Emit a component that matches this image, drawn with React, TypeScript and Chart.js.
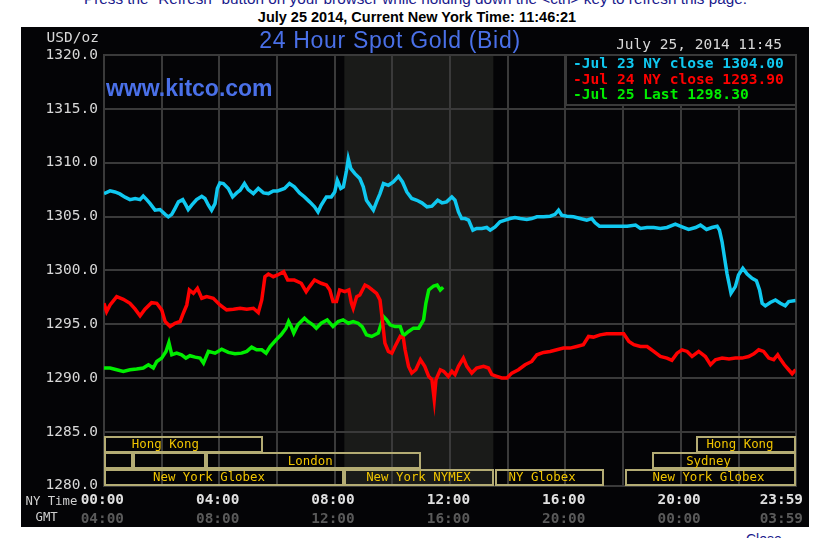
import React, { useEffect, useRef } from "react";
import { Chart, registerables } from "chart.js";

Chart.register(...registerables);

// ---------- data ----------
// [hour of NY time, USD/oz]
const jul23Close: number[][] = [
  [0, 1307.13], [0.21, 1307.38], [0.38, 1307.28], [0.55, 1307.1], [0.73, 1306.8], [0.9, 1306.57], [1.08, 1306.67],
  [1.25, 1306.57], [1.36, 1306.9], [1.48, 1306.57], [1.6, 1306.2], [1.77, 1305.59], [1.94, 1305.65], [2.12, 1305.2],
  [2.23, 1304.97], [2.35, 1305.2], [2.46, 1305.74], [2.58, 1306.36], [2.73, 1306.57], [2.84, 1306.05], [2.92, 1305.65],
  [3.04, 1306.05], [3.21, 1306.57], [3.39, 1306.88], [3.5, 1306.67], [3.62, 1306.05], [3.73, 1305.59], [3.85, 1306.2],
  [3.93, 1307.6], [4.02, 1308.12], [4.14, 1308.06], [4.31, 1307.6], [4.46, 1306.82], [4.6, 1307.19], [4.72, 1307.44],
  [4.87, 1308.06], [5.0, 1307.5], [5.18, 1307.13], [5.35, 1307.6], [5.53, 1307.19], [5.7, 1307.13], [5.87, 1307.38],
  [6.02, 1307.38], [6.26, 1307.6], [6.43, 1308.06], [6.6, 1307.75], [6.78, 1307.19], [6.95, 1306.82], [7.13, 1306.36],
  [7.3, 1305.9], [7.42, 1305.43], [7.53, 1306.05], [7.71, 1306.82], [7.88, 1306.82], [8.0, 1307.28], [8.09, 1308.36],
  [8.21, 1307.6], [8.3, 1307.75], [8.41, 1309.29], [8.47, 1310.37], [8.56, 1309.44], [8.7, 1308.98], [8.87, 1308.52],
  [8.99, 1307.75], [9.1, 1306.51], [9.22, 1306.05], [9.34, 1305.59], [9.45, 1306.36], [9.57, 1307.13], [9.69, 1308.06],
  [9.86, 1307.9], [10.03, 1308.21], [10.21, 1308.73], [10.35, 1308.21], [10.5, 1307.28], [10.67, 1306.67], [10.85, 1306.51],
  [11.02, 1306.27], [11.2, 1305.9], [11.37, 1305.96], [11.57, 1306.51], [11.72, 1306.27], [11.88, 1306.36], [12.06, 1306.82],
  [12.17, 1306.51], [12.29, 1305.43], [12.4, 1304.81], [12.52, 1304.81], [12.64, 1304.66], [12.79, 1303.73], [12.92, 1303.89],
  [13.1, 1303.89], [13.27, 1303.98], [13.39, 1303.73], [13.56, 1304.04], [13.73, 1304.51], [13.91, 1304.66], [14.08, 1304.81],
  [14.25, 1304.91], [14.43, 1304.81], [14.66, 1304.72], [14.83, 1304.81], [15.01, 1304.97], [15.24, 1304.97], [15.47, 1305.03],
  [15.64, 1305.2], [15.76, 1305.59], [15.87, 1305.12], [16.05, 1305.03], [16.28, 1304.97], [16.51, 1304.81], [16.74, 1304.66],
  [16.91, 1304.81], [17.03, 1304.41], [17.18, 1304.1], [17.38, 1304.1], [18.14, 1304.1], [18.43, 1304.2], [18.6, 1303.89],
  [18.83, 1303.98], [19.06, 1303.98], [19.29, 1303.89], [19.52, 1303.98], [19.81, 1304.29], [20.04, 1304.04], [20.27, 1303.8],
  [20.51, 1303.98], [20.68, 1304.2], [20.89, 1303.8], [21.08, 1303.98], [21.26, 1304.1], [21.34, 1303.73], [21.43, 1302.65],
  [21.51, 1301.27], [21.6, 1299.72], [21.67, 1298.8], [21.74, 1297.87], [21.89, 1298.49], [22.0, 1299.57], [22.15, 1300.19],
  [22.3, 1299.66], [22.47, 1299.26], [22.62, 1299.04], [22.73, 1298.18], [22.82, 1296.94], [22.93, 1296.7], [23.1, 1297.01],
  [23.28, 1297.25], [23.45, 1296.94], [23.62, 1296.7], [23.74, 1297.1], [23.98, 1297.19],
];

const jul24Close: number[][] = [
  [0, 1296.94], [0.09, 1296.17], [0.21, 1296.79], [0.44, 1297.56], [0.67, 1297.31], [0.9, 1296.94], [1.08, 1296.39],
  [1.25, 1295.77], [1.42, 1296.39], [1.65, 1297.0], [1.83, 1296.94], [2.0, 1296.33], [2.12, 1295.25], [2.29, 1294.78],
  [2.46, 1295.09], [2.64, 1295.25], [2.75, 1296.02], [2.87, 1296.79], [2.96, 1298.18], [3.1, 1297.87], [3.24, 1298.33],
  [3.39, 1297.41], [3.56, 1297.56], [3.79, 1297.41], [4.02, 1296.79], [4.25, 1296.33], [4.49, 1296.39], [4.72, 1296.48],
  [4.95, 1296.39], [5.18, 1296.48], [5.35, 1296.08], [5.47, 1297.25], [5.58, 1299.41], [5.7, 1299.66], [5.87, 1299.41],
  [6.02, 1299.57], [6.23, 1299.88], [6.37, 1299.1], [6.6, 1299.1], [6.84, 1298.8], [7.01, 1298.02], [7.13, 1298.49],
  [7.3, 1299.1], [7.53, 1298.8], [7.71, 1298.64], [7.83, 1298.18], [7.94, 1297.1], [8.06, 1297.1], [8.17, 1298.18],
  [8.35, 1298.02], [8.49, 1298.18], [8.58, 1296.94], [8.64, 1296.48], [8.76, 1297.56], [8.87, 1297.71], [9.05, 1298.64],
  [9.16, 1298.49], [9.3, 1298.18], [9.45, 1297.87], [9.57, 1297.25], [9.65, 1295.4], [9.74, 1293.24], [9.86, 1292.47],
  [9.98, 1292.31], [10.09, 1292.93], [10.27, 1293.86], [10.38, 1293.7], [10.44, 1292.62], [10.56, 1291.08], [10.67, 1290.46],
  [10.81, 1290.77], [10.97, 1291.7], [11.12, 1291.08], [11.26, 1290.15], [11.37, 1289.85], [11.45, 1288.0], [11.51, 1289.85],
  [11.66, 1290.77], [11.78, 1290.62], [11.94, 1290.15], [12.06, 1290.62], [12.17, 1290.31], [12.29, 1291.08], [12.46, 1291.85],
  [12.58, 1291.08], [12.75, 1290.46], [12.92, 1290.93], [13.16, 1291.08], [13.33, 1290.93], [13.45, 1290.31], [13.62, 1290.15],
  [13.79, 1290.0], [13.97, 1290.0], [14.14, 1290.46], [14.37, 1290.77], [14.6, 1291.23], [14.83, 1291.54], [15.01, 1292.16],
  [15.24, 1292.38], [15.47, 1292.47], [15.7, 1292.62], [15.93, 1292.78], [16.16, 1292.78], [16.39, 1292.93], [16.62, 1293.09],
  [16.8, 1293.86], [16.97, 1293.8], [17.2, 1294.01], [17.43, 1294.11], [18.02, 1294.11], [18.2, 1293.4], [18.37, 1293.09],
  [18.6, 1292.93], [18.83, 1292.93], [19.06, 1292.47], [19.29, 1292.0], [19.52, 1291.85], [19.69, 1291.64], [19.87, 1292.31],
  [20.04, 1292.62], [20.22, 1292.47], [20.39, 1292.0], [20.62, 1292.47], [20.85, 1292.0], [21.03, 1291.23], [21.2, 1291.7],
  [21.43, 1291.85], [21.67, 1291.76], [21.89, 1291.85], [22.12, 1291.85], [22.35, 1292.0], [22.53, 1292.25], [22.7, 1292.62],
  [22.87, 1292.47], [23.05, 1291.85], [23.22, 1291.7], [23.36, 1292.16], [23.45, 1291.76], [23.59, 1291.23], [23.74, 1290.77],
  [23.86, 1290.4], [23.98, 1290.77],
];

const jul25Last: number[][] = [
  [0, 1290.93], [0.21, 1290.93], [0.44, 1290.77], [0.67, 1290.62], [0.9, 1290.77], [1.13, 1290.83], [1.36, 1290.93],
  [1.54, 1291.23], [1.71, 1290.93], [1.83, 1291.54], [2.0, 1291.85], [2.15, 1292.47], [2.25, 1293.3], [2.35, 1292.16],
  [2.52, 1292.31], [2.69, 1292.16], [2.84, 1291.85], [2.98, 1292.07], [3.16, 1291.94], [3.33, 1291.85], [3.45, 1291.39],
  [3.62, 1292.47], [3.85, 1292.31], [4.08, 1292.68], [4.31, 1292.38], [4.54, 1292.25], [4.77, 1292.31], [4.95, 1292.47],
  [5.12, 1292.87], [5.29, 1292.62], [5.47, 1292.62], [5.62, 1292.31], [5.76, 1292.93], [5.97, 1293.55], [6.14, 1294.01],
  [6.31, 1294.63], [6.4, 1295.25], [6.49, 1294.78], [6.58, 1294.17], [6.72, 1294.94], [6.95, 1295.56], [7.07, 1295.25],
  [7.24, 1294.94], [7.36, 1294.63], [7.53, 1295.09], [7.74, 1295.4], [7.94, 1294.78], [8.12, 1295.25], [8.29, 1295.4],
  [8.47, 1295.09], [8.64, 1295.25], [8.81, 1295.09], [8.95, 1294.78], [9.1, 1294.01], [9.28, 1293.86], [9.51, 1294.17],
  [9.69, 1295.71], [9.8, 1295.4], [9.92, 1294.94], [10.09, 1294.78], [10.27, 1294.78], [10.38, 1293.92], [10.56, 1294.32],
  [10.73, 1294.63], [10.91, 1294.63], [11.08, 1295.4], [11.16, 1296.94], [11.26, 1298.18], [11.43, 1298.55], [11.55, 1298.64],
  [11.66, 1298.18], [11.76, 1298.43],
];

const seriesLabels = ["-Jul 23 NY close 1304.00", "-Jul 24 NY close 1293.90", "-Jul 25 Last 1298.30"];
const seriesColors = ["#10c8f0", "#ff0000", "#00ee00"];

const yMin = 1280;
const yMax = 1320;
const yStep = 5;
const xEnd = 23.983;
const gridHours = [0, 2, 4, 6, 8, 10, 12, 14, 16, 18, 20, 22, xEnd];
const nyTimeHours = [0, 4, 8, 12, 16, 20, xEnd];
const nyTimeLabels = ["00:00", "04:00", "08:00", "12:00", "16:00", "20:00", "23:59"];
const gmtLabels = ["04:00", "08:00", "12:00", "16:00", "20:00", "00:00", "03:59"];

const nymexWindow = [8.333, 13.5];

// trading sessions: [start hour, end hour] per row (top row first)
const sessionRow1 = [[0, 5.53], [20.53, xEnd]];
const sessionRow2 = [[0, 1.02], [1.02, 3.52], [3.52, 11.0], [19.0, xEnd]];
const sessionRow3 = [[0, 8.33], [8.33, 13.52], [13.57, 17.33], [18.05, xEnd]];
const sessionLabelText = ["Hong Kong", "London", "New York Globex", "New York NYMEX", "NY Globex", "New York Globex", "Sydney", "Hong Kong"];
const sessionLabelRow = [0, 1, 2, 2, 2, 2, 1, 0];
const sessionLabelHour = [2.13, 7.15, 3.64, 10.9, 15.19, 20.96, 20.96, 22.05];

const headerLine = 'Press the "Refresh" button on your browser while holding down the <ctrl> key to refresh this page.';
const headerTime = "July 25 2014, Current New York Time: 11:46:21";
const chartTitle = "24 Hour Spot Gold (Bid)";
const chartStamp = "July 25, 2014 11:45";

// ---------- style ----------
const MONO = '"DejaVu Sans Mono", "Liberation Mono", monospace';
const SANS = '"Liberation Sans", Arial, sans-serif';
const BG = "#040406";
const SHADE = "#1a1b19";
const GRID = "#3a3a3a";
const BOX = "#b4ac74";
const BOXTEXT = "#f0c400";
const BLUE = "#4a70e8";

const kitcoPlugin = {
  id: "kitcoDecor",
  beforeDraw(chart: any) {
    const { ctx, chartArea: a } = chart;
    const x = chart.scales.x;
    ctx.save();
    ctx.fillStyle = BG;
    ctx.fillRect(0, 0, chart.width, chart.height);
    const x0 = x.getPixelForValue(nymexWindow[0]);
    const x1 = x.getPixelForValue(nymexWindow[1]);
    ctx.fillStyle = SHADE;
    ctx.fillRect(x0, a.top, x1 - x0, a.bottom - a.top);
    ctx.restore();
  },
  afterDatasetsDraw(chart: any) {
    const { ctx, chartArea: a } = chart;
    const x = chart.scales.x;
    const rowH = 16.2;
    const rows = [sessionRow1, sessionRow2, sessionRow3];
    ctx.save();
    ctx.strokeStyle = BOX;
    ctx.lineWidth = 2;
    rows.forEach((row, i) => {
      const top = Math.round(a.bottom - rowH * (3 - i));
      row.forEach(([s, e]) => {
        const x0 = Math.round(x.getPixelForValue(s)) + 1;
        const x1 = Math.round(x.getPixelForValue(e)) - 1;
        ctx.strokeRect(x0, top, x1 - x0, Math.round(rowH) - 1);
      });
    });
    ctx.fillStyle = BOXTEXT;
    ctx.font = `12.4px ${MONO}`;
    ctx.textAlign = "center";
    ctx.textBaseline = "middle";
    sessionLabelText.forEach((t, i) => {
      const r = sessionLabelRow[i];
      const cy = a.bottom - rowH * (3 - r) + rowH / 2;
      ctx.fillText(t, x.getPixelForValue(sessionLabelHour[i]), cy);
    });
    ctx.restore();
  },
  afterDraw(chart: any) {
    const { ctx, chartArea: a } = chart;
    const x = chart.scales.x;
    ctx.save();
    // title
    ctx.fillStyle = BLUE;
    ctx.font = `23px ${SANS}`;
    (ctx as any).letterSpacing = "0.7px";
    ctx.textAlign = "center";
    ctx.textBaseline = "alphabetic";
    ctx.fillText(chartTitle, 369, 20.7);
    (ctx as any).letterSpacing = "0px";
    // watermark
    ctx.font = `bold 23px ${SANS}`;
    ctx.textAlign = "left";
    ctx.fillText("www.kitco.com", 85, 69);
    // unit
    ctx.fillStyle = "#d8d8d8";
    ctx.font = `14.5px ${MONO}`;
    ctx.textAlign = "right";
    ctx.textBaseline = "middle";
    ctx.fillText("USD/oz", 78, 11);
    // date stamp
    ctx.fillText(chartStamp, 761, 18);
    // legend box
    const lx0 = 545;
    const lx1 = Math.round(a.right);
    ctx.fillStyle = BG;
    ctx.fillRect(lx0, a.top, lx1 - lx0, 50);
    ctx.strokeStyle = GRID;
    ctx.lineWidth = 2;
    ctx.strokeRect(lx0, Math.round(a.top), lx1 - lx0, 50);
    ctx.font = `bold 14.6px ${MONO}`;
    ctx.textAlign = "left";
    seriesLabels.forEach((t, i) => {
      ctx.fillStyle = seriesColors[i];
      ctx.fillText(t, 552, a.top + 9.5 + i * 15.4);
    });
    // bottom axis labels
    ctx.fillStyle = "#d0d0d0";
    ctx.font = `12.3px ${MONO}`;
    ctx.textAlign = "left";
    ctx.fillText("NY Time", 4.5, 475);
    ctx.fillText("GMT", 14.5, 491);
    nyTimeHours.forEach((h, i) => {
      const px = x.getPixelForValue(h);
      const last = i === nyTimeHours.length - 1;
      ctx.textAlign = last ? "right" : "center";
      const tx = last ? 782 : px - 1.7;
      ctx.font = `bold 14.4px ${MONO}`;
      ctx.fillStyle = "#e0e0e0";
      ctx.fillText(nyTimeLabels[i], tx, 473.5);
      ctx.fillStyle = "#5a5a5a";
      ctx.fillText(gmtLabels[i], tx, 492);
    });
    ctx.restore();
  },
};

export default function App() {
  const ref = useRef<HTMLCanvasElement | null>(null);

  useEffect(() => {
    if (!ref.current) return;
    const mk = (d: number[][]) => d.map(([h, v]) => ({ x: h, y: v }));
    const chart = new Chart(ref.current, {
      type: "line",
      data: {
        datasets: [jul23Close, jul24Close, jul25Last].map((d, i) => ({
          label: seriesLabels[i],
          data: mk(d),
          borderColor: seriesColors[i],
          borderWidth: 3.5,
          pointRadius: 0,
          tension: 0,
          fill: false,
        })),
      },
      options: {
        animation: false,
        responsive: false,
        devicePixelRatio: 1,
        parsing: true,
        layout: { padding: { left: 0, top: 28, right: 13.3, bottom: 41.3 } },
        plugins: { legend: { display: false }, tooltip: { enabled: false }, title: { display: false } },
        scales: {
          x: {
            type: "linear",
            min: 0,
            max: xEnd,
            afterBuildTicks: (s: any) => {
              s.ticks = gridHours.map((v) => ({ value: v }));
            },
            afterFit: (s: any) => {
              s.height = 0;
            },
            ticks: { display: false },
            grid: { color: GRID, lineWidth: 2, drawTicks: false },
            border: { color: GRID, width: 2 },
          },
          y: {
            type: "linear",
            min: yMin,
            max: yMax,
            afterFit: (s: any) => {
              s.width = 83;
            },
            ticks: {
              stepSize: yStep,
              padding: 6,
              color: "#d8d8d8",
              font: { family: MONO, size: 14.5 },
              callback: (v: any) => Number(v).toFixed(1),
            },
            grid: { color: GRID, lineWidth: 2, drawTicks: false },
            border: { color: GRID, width: 2 },
          },
        },
      },
      plugins: [kitcoPlugin],
    } as any);
    return () => chart.destroy();
  }, []);

  return (
    <div
      style={{
        position: "absolute",
        left: 0,
        top: 0,
        width: 831,
        height: 538,
        background: "#ffffff",
        overflow: "hidden",
        fontFamily: SANS,
      }}
    >
      <div
        style={{
          position: "absolute",
          left: 0,
          top: -10,
          width: 831,
          textAlign: "center",
          fontSize: 15.3,
          lineHeight: "17px",
          color: "#1a1a8c",
          whiteSpace: "nowrap",
        }}
      >
        {headerLine}
      </div>
      <div
        style={{
          position: "absolute",
          left: 0,
          top: 9,
          width: 834,
          textAlign: "center",
          fontSize: 14.5,
          fontWeight: "bold",
          lineHeight: "17px",
          color: "#000",
          whiteSpace: "nowrap",
        }}
      >
        {headerTime}
      </div>
      <canvas
        ref={ref}
        width={788}
        height={500}
        style={{ position: "absolute", left: 21, top: 27, width: 788, height: 500 }}
      />
      <div style={{ position: "absolute", left: 746, top: 531, fontSize: 14, color: "#1a1a8c", lineHeight: "16px" }}>Close</div>
    </div>
  );
}
